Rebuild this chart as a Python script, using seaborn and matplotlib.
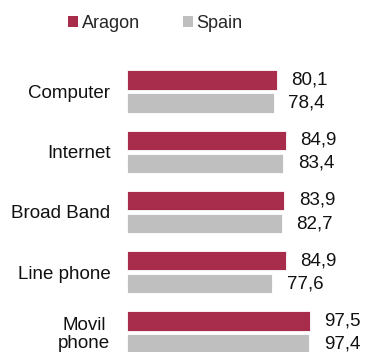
import pandas as pd
import matplotlib
matplotlib.use("Agg")
import matplotlib.pyplot as plt
from matplotlib.patches import Patch
import seaborn as sns

# ICT equipment in households, Aragon vs Spain (%)
categories = ["Computer", "Internet", "Broad Band", "Line phone", "Movil\nphone"]
aragon = [80.1, 84.9, 83.9, 84.9, 97.5]
spain = [78.4, 83.4, 82.7, 77.6, 97.4]
regions = ["Aragon", "Spain"]
colors = ["#A82C4B", "#BFBFBF"]

df = pd.DataFrame({
    "category": categories * 2,
    "region": ["Aragon"] * len(categories) + ["Spain"] * len(categories),
    "value": aragon + spain,
})

sns.set_style("white")
plt.rcParams["font.family"] = ["Liberation Sans", "DejaVu Sans"]

fig = plt.figure(figsize=(3.66, 3.52), dpi=100)
ax = fig.add_axes([127 / 366, 0, 1 - 127 / 366, 1])

sns.barplot(data=df, y="category", x="value", hue="region", order=categories,
            hue_order=regions, palette=colors, saturation=1, orient="h",
            width=0.77, gap=0.17, edgecolor="white", linewidth=0.6,
            legend=False, ax=ax)

for cont, vals in zip(ax.containers, [aragon, spain]):
    ax.bar_label(cont, labels=[f"{v:.1f}".replace(".", ",") for v in vals],
                 padding=10.5, fontsize=13.5, color="#111111")

ax.set_xlim(0, 127.6)
ax.set_ylim(4.324, -1.519)
ax.set_xlabel("")
ax.set_ylabel("")
ax.set_xticks([])
ax.tick_params(axis="y", length=0, pad=12, labelsize=13.5, labelcolor="#111111")
for lbl in ax.get_yticklabels():
    lbl.set_multialignment("center")
    lbl.set_linespacing(1.05)
sns.despine(ax=ax, left=True, bottom=True)

handles = [Patch(facecolor=c, edgecolor="none") for c in colors]
fig.legend(handles, regions, loc="center left", bbox_to_anchor=(68 / 366, 1 - 23 / 352),
           ncol=2, frameon=False, fontsize=13, handlelength=0.55, handleheight=0.55,
           handletextpad=0.2, columnspacing=2.4, borderpad=0, borderaxespad=0)

fig.savefig("out.png", dpi=100)
